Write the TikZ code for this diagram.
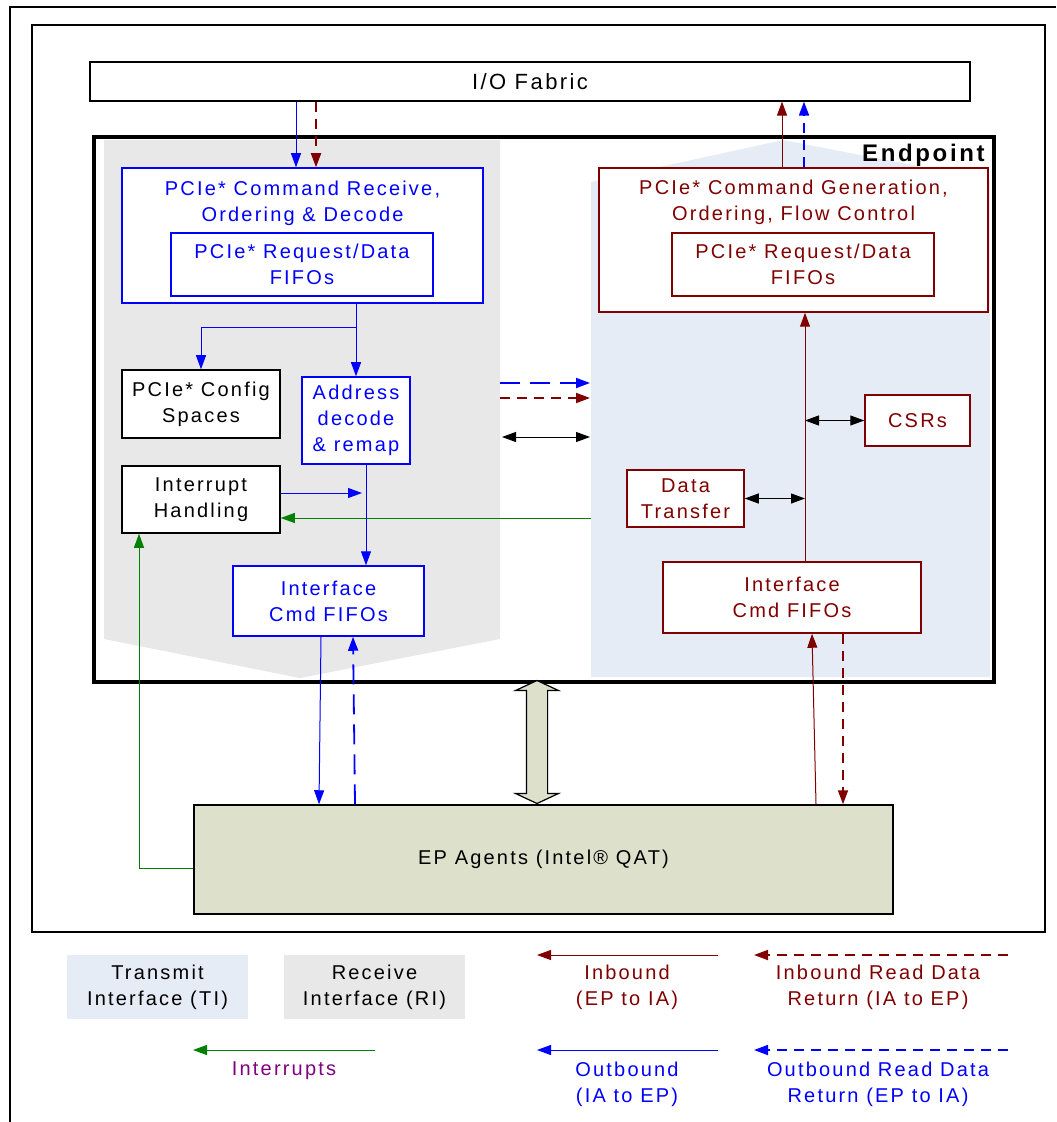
\documentclass[tikz,border=0pt]{standalone}
\usepackage{fontspec}
\setmainfont{Liberation Sans}
\newfontfamily\boxfont[LetterSpace=11]{Liberation Sans}
\usepackage{xcolor}
\usepackage{tikz}
\usetikzlibrary{arrows.meta, positioning, calc, shapes.arrows}

\definecolor{inred}{RGB}{128,0,0}
\definecolor{outblue}{RGB}{0,0,255}
\definecolor{intgreen}{RGB}{0,128,0}
\definecolor{intpurple}{RGB}{128,0,128}
\definecolor{rxgrey}{RGB}{232,232,232}
\definecolor{txblue}{RGB}{230,236,246}
\definecolor{agentfill}{RGB}{221,224,203}

\newcommand{\boxtxt}{\boxfont\fontsize{10}{13}\selectfont}

\tikzset{
  unitbox/.style={
    draw, line width=0.75pt, fill=white, inner sep=0pt
  },
  rxbox/.style={unitbox, draw=outblue},
  txbox/.style={unitbox, draw=inred},
  plainbox/.style={unitbox, draw=black},
  boxlabel/.style={align=center, font=\boxtxt, inner sep=1pt},
  legbox/.style={
    fill=#1, inner sep=0pt, align=center, font=\boxtxt,
    minimum width=90.5pt, minimum height=32pt
  },
  leglabel/.style={align=center, font=\boxtxt, inner sep=1pt},
  tip/.style={-{Triangle[length=7pt, width=5pt]}},
  outarr/.style={tip, draw=outblue, line width=0.5pt},
  outrdarr/.style={outarr, line width=0.9pt, dash pattern=on 5pt off 3.5pt},
  outlongarr/.style={outarr, line width=0.9pt, dash pattern=on 10pt off 5pt},
  inarr/.style={tip, draw=inred, line width=0.5pt},
  inrdarr/.style={inarr, line width=0.9pt, dash pattern=on 5pt off 3.5pt},
  intarr/.style={tip, draw=intgreen, line width=0.5pt},
  bidir/.style={{Triangle[length=7pt, width=5pt]}-{Triangle[length=7pt, width=5pt]}, line width=0.5pt},
}

\begin{document}
\begin{tikzpicture}[x=0.5pt, y=-0.5pt]
  \useasboundingbox (0,0) rectangle (1056,1122);

  % frames
  \draw[line width=0.8pt] (10,1122) -- (10,7) -- (1056,7);
  \draw[line width=0.6pt] (32,25) rectangle (1045,932);

  % receive / transmit regions
  \fill[rxgrey] (104,140) -- (500,140) -- (500,639) -- (300,678) -- (104,639) -- cycle;
  \fill[txblue] (591,182) -- (783,140) -- (990,180) -- (990,677) -- (591,677) -- cycle;

  \node[draw, line width=0.6pt, inner sep=0pt, minimum width=440pt, minimum height=19.5pt,
    font=\boxfont\fontsize{11}{13}\selectfont] (fabric) at (530,81.5) {I/O Fabric};

  \node[draw, line width=1.8pt, inner sep=0pt, minimum width=450pt, minimum height=272.5pt] (endpoint) at (544,409.5) {};
  \node[anchor=north east, font=\boxfont\fontsize{12}{13}\selectfont\bfseries, inner sep=1pt] (eplbl) at (987,142) {Endpoint};

  % receive side
  \node[rxbox, minimum width=180.5pt, minimum height=67.5pt] (cmdrx) at (302.5,235.5) {};
  \node[boxlabel, text=outblue, anchor=north] (cmdrxlbl) at ($(cmdrx.north)+(0,11)$) {PCIe* Command Receive,\\Ordering \& Decode};
  \node[rxbox, boxlabel, text=outblue, minimum width=131pt, minimum height=31.5pt] (rxfifo) at (302,264.5) {PCIe* Request/Data\\FIFOs};
  \node[plainbox, boxlabel, minimum width=79pt, minimum height=34pt] (cfgsp) at (201,404) {PCIe* Config\\Spaces};
  \node[rxbox, boxlabel, text=outblue, minimum width=54pt, minimum height=43.5pt] (addrdec) at (356,420.5) {Address\\decode\\\& remap};
  \node[plainbox, boxlabel, minimum width=79pt, minimum height=33.5pt] (irq) at (201,499.5) {Interrupt\\Handling};
  \node[rxbox, boxlabel, text=outblue, minimum width=95.5pt, minimum height=35pt] (rxcmd) at (328.5,601) {Interface\\Cmd FIFOs};

  % transmit side
  \node[txbox, minimum width=194.5pt, minimum height=72pt] (cmdgen) at (793.5,240) {};
  \node[boxlabel, text=inred, anchor=north] (cmdgenlbl) at ($(cmdgen.north)+(0,10)$) {PCIe* Command Generation,\\Ordering, Flow Control};
  \node[txbox, boxlabel, text=inred, minimum width=131pt, minimum height=31.5pt] (txfifo) at (803,264.5) {PCIe* Request/Data\\FIFOs};
  \node[txbox, boxlabel, text=inred, minimum width=52.5pt, minimum height=25.5pt] (csrs) at (917.5,420.5) {CSRs};
  \node[txbox, boxlabel, text=inred, minimum width=58.5pt, minimum height=28.5pt] (dxfer) at (685.5,498.5) {Data\\Transfer};
  \node[txbox, boxlabel, text=inred, minimum width=129pt, minimum height=35.5pt] (txcmd) at (792,597.5) {Interface\\Cmd FIFOs};

  \node[draw, line width=0.75pt, fill=agentfill, inner sep=0pt, minimum width=349.5pt, minimum height=54.5pt,
    font=\boxtxt] (agents) at (543.5,859.5) {EP Agents (Intel\textregistered{} QAT)};

  \node[double arrow, draw, line width=0.6pt, fill=agentfill, rotate=90, inner sep=0pt,
    text height=10pt, text depth=0pt, minimum height=61.5pt,
    double arrow head extend=5.5pt, double arrow tip angle=130] (link) at (537,742) {};

  % fabric connections
  \draw[outarr] (fabric.south -| 296,0) -- (cmdrx.north -| 296,0);
  \draw[inrdarr] (fabric.south -| 316,0) -- (cmdrx.north -| 316,0);
  \draw[inarr] (cmdgen.north -| 782,0) -- (fabric.south -| 782,0);
  \draw[outrdarr] (cmdgen.north -| 804,0) -- (fabric.south -| 804,0);

  % receive path
  \draw[outarr] (cmdrx.south -| addrdec.north) -- (addrdec.north);
  \draw[outarr] ($(cmdrx.south -| addrdec.north)+(0,24)$) -| (cfgsp.north);
  \coordinate (irqin) at (362,493);
  \draw[outarr] (irq.east |- irqin) -- (irqin);
  \coordinate (irqsrc) at (591,518);
  \draw[intarr] (irqsrc) -- (irq.east |- irqsrc);
  \draw[outarr] (addrdec.south -| 366,0) -- (rxcmd.north -| 366,0);

  % between the two sides
  \coordinate (crossL1) at (500,383);
  \coordinate (crossR1) at (590,383);
  \coordinate (crossL2) at (500,398);
  \coordinate (crossR2) at (590,398);
  \coordinate (crossL3) at (502,437);
  \coordinate (crossR3) at (590,437);
  \draw[outlongarr] (crossL1) -- (crossR1);
  \draw[inrdarr] (crossL2) -- (crossR2);
  \draw[bidir] (crossL3) -- (crossR3);

  % transmit path
  \draw[inarr] (txcmd.north -| 805,0) -- (cmdgen.south -| 805,0);
  \draw[bidir] (csrs.west -| 805,0) -- (csrs.west);
  \draw[bidir] (dxfer.east) -- (dxfer.east -| 805,0);

  % agents
  \draw[intarr] (agents.west |- 0,868) -| (irq.south -| 139,0);
  \draw[outarr] (rxcmd.south -| 321,0) -- (agents.north -| 319,0);
  \draw[outlongarr] (agents.north -| 355,0) -- (rxcmd.south -| 353,0);
  \draw[inarr] (agents.north -| 816,0) -- (txcmd.south -| 812,0);
  \draw[inrdarr] (txcmd.south -| 843,0) -- (agents.north -| 843,0);

  % legend
  \node[legbox=txblue] (txleg) at (157.5,987) {Transmit\\Interface (TI)};
  \node[legbox=rxgrey] (rxleg) at (374.5,987) {Receive\\Interface (RI)};

  \node[leglabel, text=inred] (inlbl) at (627,987) {Inbound\\(EP to IA)};
  \node[leglabel, text=inred] (inrdlbl) at (878,987) {Inbound Read Data\\Return (IA to EP)};
  \node[leglabel, text=intpurple] (intlbl) at (284,1071) {Interrupts};
  \node[leglabel, text=outblue] (outlbl) at (627,1084) {Outbound\\(IA to EP)};
  \node[leglabel, text=outblue] (outrdlbl) at (878,1084) {Outbound Read Data\\Return (EP to IA)};

  \coordinate (inS) at (718,955);   \coordinate (inE) at (537,955);
  \coordinate (inrdS) at (1008,955); \coordinate (inrdE) at (754,955);
  \coordinate (intS) at (375,1050);  \coordinate (intE) at (193,1050);
  \coordinate (outS) at (718,1050);  \coordinate (outE) at (537,1050);
  \coordinate (outrdS) at (1008,1050); \coordinate (outrdE) at (754,1050);
  \draw[inarr] (inS) -- (inE);
  \draw[inrdarr] (inrdS) -- (inrdE);
  \draw[intarr] (intS) -- (intE);
  \draw[outarr] (outS) -- (outE);
  \draw[outrdarr] (outrdS) -- (outrdE);
\end{tikzpicture}
\end{document}
